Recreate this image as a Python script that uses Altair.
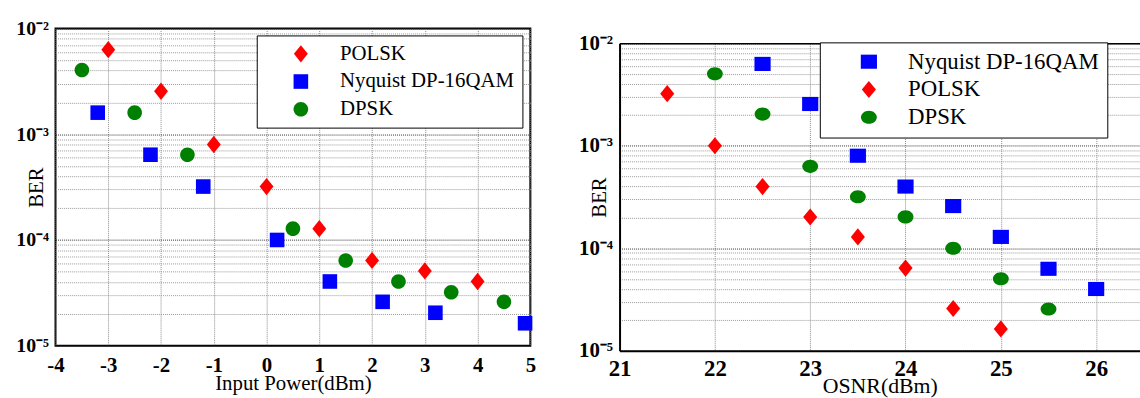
import altair as alt
import pandas as pd

# ---------------- data ----------------
series_names = ["POLSK", "Nyquist DP-16QAM", "DPSK"]

# Left panel: BER vs Input Power (dBm)
left_polsk_x = [-3, -2, -1, 0, 1, 2, 3, 4]
left_polsk_ber = [6.3e-3, 2.55e-3, 8.0e-4, 3.2e-4, 1.28e-4, 6.4e-5, 5.1e-5, 4.05e-5]
left_qam_x = [-3.2, -2.2, -1.2, 0.2, 1.2, 2.2, 3.2, 4.9]
left_qam_ber = [1.6e-3, 6.4e-4, 3.2e-4, 1.0e-4, 4.05e-5, 2.6e-5, 2.05e-5, 1.63e-5]
left_dpsk_x = [-3.5, -2.5, -1.5, 0.5, 1.5, 2.5, 3.5, 4.5]
left_dpsk_ber = [4.05e-3, 1.6e-3, 6.4e-4, 1.28e-4, 6.4e-5, 4.05e-5, 3.2e-5, 2.6e-5]

# Right panel: BER vs OSNR (dBm)
right_qam_x = [22.5, 23, 23.5, 24, 24.5, 25, 25.5, 26]
right_qam_ber = [6.3e-3, 2.56e-3, 8.0e-4, 4.0e-4, 2.58e-4, 1.29e-4, 6.3e-5, 4.0e-5]
right_polsk_x = [21.5, 22, 22.5, 23, 23.5, 24, 24.5, 25]
right_polsk_ber = [3.23e-3, 1.0e-3, 4.0e-4, 2.02e-4, 1.29e-4, 6.4e-5, 2.58e-5, 1.63e-5]
right_dpsk_x = [22, 22.5, 23, 23.5, 24, 24.5, 25, 25.5]
right_dpsk_ber = [5.05e-3, 2.04e-3, 6.3e-4, 3.18e-4, 2.02e-4, 1.0e-4, 5.04e-5, 2.55e-5]

left_x_ticks = [-4, -3, -2, -1, 0, 1, 2, 3, 4, 5]
right_x_ticks = [21, 22, 23, 24, 25, 26]
ber_grid = [m * 10.0 ** e for e in (-5, -4, -3) for m in range(1, 10)] + [1e-2]


def frame(xs, bers, name):
    return pd.DataFrame({"x": xs, "ber": bers, "series": name})


left_df = pd.concat([
    frame(left_polsk_x, left_polsk_ber, "POLSK"),
    frame(left_qam_x, left_qam_ber, "Nyquist DP-16QAM"),
    frame(left_dpsk_x, left_dpsk_ber, "DPSK"),
])
right_df = pd.concat([
    frame(right_qam_x, right_qam_ber, "Nyquist DP-16QAM"),
    frame(right_polsk_x, right_polsk_ber, "POLSK"),
    frame(right_dpsk_x, right_dpsk_ber, "DPSK"),
])

# ---------------- styling ----------------
FONT = "Liberation Serif"
RED, BLUE, GREEN = "#ff0000", "#0000ff", "#008000"
SYM = 256  # symbol size (sqrt = 16 px box)

DIAMOND_L = "M0,-1.09L0.875,0L0,1.09L-0.875,0Z"
SQUARE_L = "M-0.92,-0.92L0.92,-0.92L0.92,0.92L-0.92,0.92Z"
CIRCLE_L = "M-0.92,0A0.92,0.92 0 1,0 0.92,0A0.92,0.92 0 1,0 -0.92,0Z"
DIAMOND_R = "M0,-1.08L0.89,0L0,1.08L-0.89,0Z"
SQUARE_R = "M-1.02,-0.89L1.02,-0.89L1.02,0.89L-1.02,0.89Z"
ELLIPSE_R = "M-1,0A1,0.83 0 1,0 1,0A1,0.83 0 1,0 -1,0Z"

L10 = "round(log(datum.value)/LN10)"
DECADE = f"abs(log(datum.value)/LN10 - {L10}) < 0.001"
Y_LABEL = (f"({DECADE}) ? ('10' + ({L10} == -2 ? '⁻²' : {L10} == -3 ? '⁻³' : "
           f"{L10} == -4 ? '⁻⁴' : '⁻⁵')) : ''")
GRID_COLOR = {"condition": {"test": DECADE, "value": "#333333"}, "value": "#9a9a9a"}


def y_axis(label_size, title_x, domain):
    return alt.Axis(
        values=ber_grid, labelExpr=Y_LABEL, labelOverlap=False, labelFlush=False,
        labelFont=FONT, labelFontWeight="bold", labelFontSize=label_size,
        labelColor="black", labelPadding=7, ticks=False,
        domain=domain, domainColor="black", domainWidth=2,
        grid=True, gridColor=GRID_COLOR, gridDash=[1, 1], gridWidth=1,
        title="BER", titleFont=FONT, titleFontWeight="normal", titleFontSize=21,
        titleColor="black", titleX=title_x, titleAngle=-90,
        titleAlign="center", titleBaseline="middle",
    )


def x_axis(ticks, label_size, title, title_size, label_pad, title_pad, domain):
    return alt.Axis(
        values=ticks, labelExpr="'' + datum.value", labelFlush=False, labelOverlap=False,
        labelFont=FONT, labelFontWeight="bold", labelFontSize=label_size,
        labelColor="black", labelPadding=label_pad, ticks=False,
        domain=domain, domainColor="black", domainWidth=2,
        grid=True, gridColor="#8a8a8a", gridDash=[1, 1], gridWidth=1,
        title=title, titleFont=FONT, titleFontWeight="normal", titleFontSize=title_size,
        titleColor="black", titlePadding=title_pad,
    )


def legend(x, y, font_size, sym_off, lab_off, row_pad):
    return alt.Legend(
        title=None, orient="none", legendX=x, legendY=y,
        strokeColor="black", fillColor="white", padding=8, rowPadding=row_pad,
        symbolOffset=sym_off, labelOffset=lab_off, symbolSize=SYM,
        symbolStrokeWidth=0, labelFont=FONT, labelFontSize=font_size,
        labelColor="black", labelLimit=0,
    )


# ---------------- left panel ----------------
left_order = ["POLSK", "Nyquist DP-16QAM", "DPSK"]
leg_l = legend(203, 7, 21, 26, 29, 6)
left = alt.Chart(left_df).mark_point(filled=True, opacity=1, size=SYM, strokeWidth=0).encode(
    x=alt.X("x:Q", scale=alt.Scale(domain=[-4, 5], nice=False, zero=False),
            axis=x_axis(left_x_ticks, 21, "Input Power(dBm)", 21, 9, -3, False)),
    y=alt.Y("ber:Q", scale=alt.Scale(type="log", domain=[1e-5, 1e-2], nice=False),
            axis=y_axis(20, -19, False)),
    color=alt.Color("series:N", scale=alt.Scale(domain=left_order, range=[RED, BLUE, GREEN]),
                    legend=leg_l),
    shape=alt.Shape("series:N", scale=alt.Scale(domain=left_order,
                    range=[DIAMOND_L, SQUARE_L, CIRCLE_L]), legend=leg_l),
).properties(width=479, height=320,
             view=alt.ViewBackground(stroke="black", strokeWidth=2))

# ---------------- right panel ----------------
right_order = ["Nyquist DP-16QAM", "POLSK", "DPSK"]
leg_r = legend(202, 14, 23, 30, 28, 4)
rx_scale = alt.Scale(domain=[21, 26.46], nice=False, zero=False)
ry_scale = alt.Scale(type="log", domain=[1e-5, 1e-2], nice=False)
right_pts = alt.Chart(right_df).mark_point(filled=True, opacity=1, size=SYM, strokeWidth=0).encode(
    x=alt.X("x:Q", scale=rx_scale,
            axis=x_axis(right_x_ticks, 23, "OSNR(dBm)", 22, 7, -5, True)),
    y=alt.Y("ber:Q", scale=ry_scale, axis=y_axis(21, -20, True)),
    color=alt.Color("series:N", scale=alt.Scale(domain=right_order, range=[BLUE, RED, GREEN]),
                    legend=leg_r),
    shape=alt.Shape("series:N", scale=alt.Scale(domain=right_order,
                    range=[SQUARE_R, DIAMOND_R, ELLIPSE_R]), legend=leg_r),
)
right_top = alt.Chart(right_df).mark_point(opacity=0).encode(
    x=alt.X("x:Q", scale=rx_scale,
            axis=alt.Axis(orient="top", labels=False, ticks=False, grid=False, title=None,
                          domain=True, domainColor="black", domainWidth=1.5)),
)
right = alt.layer(right_pts, right_top).resolve_axis(x="independent").properties(
    width=525, height=310,
    view=alt.ViewBackground(stroke=None),
)

# invisible spacer that pushes the right panel a little lower than the left one
spacer = alt.Chart(right_df).mark_point(opacity=0).encode(
    x=alt.value(0), y=alt.value(0)
).properties(width=525, height=4, view=alt.ViewBackground(stroke=None))

right_col = alt.vconcat(spacer, right, spacing=0)

chart = alt.hconcat(left, right_col, spacing=41).resolve_scale(
    color="independent", shape="independent"
).resolve_legend(color="independent", shape="independent").properties(
    padding={"left": 15, "top": 16, "right": 0, "bottom": 0},
    background="white",
)

chart.save("out.html", embed_options={"renderer": "svg", "actions": False})
